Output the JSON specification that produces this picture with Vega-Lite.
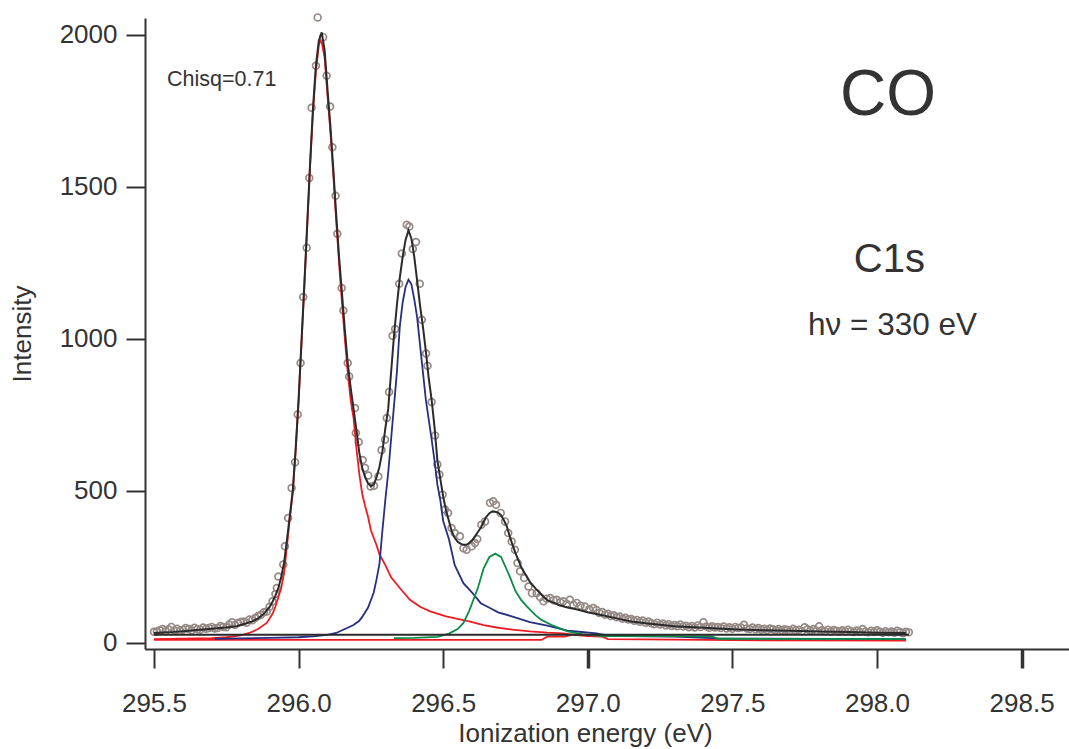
{
"$schema": "https://vega.github.io/schema/vega-lite/v6.json",
"width": 924, "height": 631,
"autosize": {"type": "none"},
"padding": {"left": 145, "top": 18, "right": 0, "bottom": 100},
"background": "white",
"config": {"view": {"stroke": null}, "font": "Liberation Sans"},
"datasets": {
"pts": [
{"x":295.50,"y":36},{"x":295.51,"y":37},{"x":295.52,"y":41},{"x":295.53,"y":45},{"x":295.54,"y":38},{"x":295.55,"y":44},{"x":295.56,"y":52},{"x":295.57,"y":40},{"x":295.58,"y":46},{"x":295.59,"y":39},{"x":295.60,"y":43},{"x":295.61,"y":48},{"x":295.62,"y":45},{"x":295.63,"y":41},{"x":295.64,"y":49},{"x":295.65,"y":44},{"x":295.66,"y":43},{"x":295.67,"y":50},{"x":295.68,"y":46},{"x":295.69,"y":48},{"x":295.70,"y":52},{"x":295.71,"y":47},{"x":295.72,"y":48},{"x":295.73,"y":55},{"x":295.74,"y":52},{"x":295.75,"y":51},{"x":295.76,"y":60},{"x":295.77,"y":67},{"x":295.78,"y":58},{"x":295.79,"y":65},{"x":295.80,"y":68},{"x":295.81,"y":70},{"x":295.82,"y":66},{"x":295.83,"y":76},{"x":295.84,"y":74},{"x":295.85,"y":81},{"x":295.86,"y":88},{"x":295.87,"y":92},{"x":295.88,"y":100},{"x":295.89,"y":103},{"x":295.90,"y":118},{"x":295.91,"y":136},{"x":295.92,"y":160},{"x":295.925,"y":180},{"x":295.93,"y":218},{"x":295.947,"y":257},{"x":295.953,"y":317},{"x":295.964,"y":410},{"x":295.976,"y":509},{"x":295.988,"y":594},{"x":295.997,"y":751},{"x":296.007,"y":920},{"x":296.016,"y":1137},{"x":296.028,"y":1299},{"x":296.037,"y":1529},{"x":296.045,"y":1760},{"x":296.060,"y":1898},{"x":296.066,"y":2057},{"x":296.085,"y":1992},{"x":296.097,"y":1865},{"x":296.109,"y":1764},{"x":296.117,"y":1630},{"x":296.128,"y":1470},{"x":296.134,"y":1345},{"x":296.149,"y":1167},{"x":296.155,"y":1093},{"x":296.170,"y":920},{"x":296.175,"y":876},{"x":296.195,"y":772},{"x":296.198,"y":690},{"x":296.208,"y":660},{"x":296.222,"y":601},{"x":296.230,"y":575},{"x":296.241,"y":550},{"x":296.249,"y":514},{"x":296.261,"y":516},{"x":296.276,"y":547},{"x":296.287,"y":634},{"x":296.299,"y":668},{"x":296.305,"y":739},{"x":296.313,"y":825},{"x":296.325,"y":1010},{"x":296.334,"y":1032},{"x":296.348,"y":1181},{"x":296.357,"y":1280},{"x":296.374,"y":1375},{"x":296.383,"y":1369},{"x":296.395,"y":1295},{"x":296.406,"y":1318},{"x":296.419,"y":1181},{"x":296.426,"y":1062},{"x":296.441,"y":951},{"x":296.446,"y":911},{"x":296.460,"y":792},{"x":296.472,"y":682},{"x":296.480,"y":586},{"x":296.487,"y":553},{"x":296.498,"y":487},{"x":296.506,"y":438},{"x":296.517,"y":427},{"x":296.529,"y":377},{"x":296.540,"y":361},{"x":296.558,"y":350},{"x":296.570,"y":311},{"x":296.581,"y":306},{"x":296.599,"y":317},{"x":296.610,"y":328},{"x":296.618,"y":341},{"x":296.632,"y":388},{"x":296.645,"y":399},{"x":296.662,"y":460},{"x":296.673,"y":465},{"x":296.683,"y":454},{"x":296.699,"y":427},{"x":296.714,"y":399},{"x":296.725,"y":361},{"x":296.737,"y":333},{"x":296.748,"y":306},{"x":296.757,"y":262},{"x":296.766,"y":235},{"x":296.780,"y":213},{"x":296.795,"y":185},{"x":296.807,"y":163},{"x":296.823,"y":163},{"x":296.835,"y":150},{"x":296.847,"y":136},{"x":296.858,"y":145},{"x":296.870,"y":147},{"x":296.882,"y":140},{"x":296.893,"y":141},{"x":296.905,"y":133},{"x":296.915,"y":136},{"x":296.927,"y":128},{"x":296.938,"y":141},{"x":296.950,"y":125},{"x":296.962,"y":131},{"x":296.975,"y":122},{"x":296.990,"y":119},{"x":297.005,"y":110},{"x":297.019,"y":114},
{"x":297.03,"y":108},{"x":297.04,"y":98},{"x":297.05,"y":101},{"x":297.06,"y":92},{"x":297.07,"y":95},{"x":297.08,"y":88},{"x":297.09,"y":90},{"x":297.10,"y":84},{"x":297.11,"y":86},{"x":297.12,"y":79},{"x":297.13,"y":82},{"x":297.14,"y":76},{"x":297.15,"y":78},{"x":297.16,"y":72},{"x":297.17,"y":75},{"x":297.18,"y":69},{"x":297.19,"y":73},{"x":297.20,"y":66},{"x":297.21,"y":70},{"x":297.22,"y":64},{"x":297.23,"y":61},{"x":297.24,"y":66},{"x":297.25,"y":60},{"x":297.26,"y":63},{"x":297.27,"y":57},{"x":297.28,"y":61},{"x":297.29,"y":55},{"x":297.30,"y":58},{"x":297.31,"y":54},{"x":297.32,"y":60},{"x":297.33,"y":53},{"x":297.34,"y":56},{"x":297.35,"y":51},{"x":297.36,"y":55},{"x":297.37,"y":50},{"x":297.38,"y":57},{"x":297.39,"y":52},{"x":297.40,"y":67},{"x":297.41,"y":53},{"x":297.42,"y":49},{"x":297.43,"y":54},{"x":297.44,"y":50},{"x":297.45,"y":52},{"x":297.46,"y":48},{"x":297.47,"y":53},{"x":297.48,"y":47},{"x":297.49,"y":51},{"x":297.50,"y":46},{"x":297.51,"y":52},{"x":297.52,"y":48},{"x":297.53,"y":50},{"x":297.54,"y":59},{"x":297.55,"y":47},{"x":297.56,"y":45},{"x":297.57,"y":50},{"x":297.58,"y":44},{"x":297.59,"y":48},{"x":297.60,"y":43},{"x":297.61,"y":46},{"x":297.62,"y":42},{"x":297.63,"y":47},{"x":297.64,"y":44},{"x":297.65,"y":41},{"x":297.66,"y":45},{"x":297.67,"y":40},{"x":297.68,"y":44},{"x":297.69,"y":42},{"x":297.70,"y":39},{"x":297.71,"y":46},{"x":297.72,"y":41},{"x":297.73,"y":43},{"x":297.74,"y":38},{"x":297.75,"y":51},{"x":297.76,"y":44},{"x":297.77,"y":40},{"x":297.78,"y":45},{"x":297.79,"y":39},{"x":297.80,"y":54},{"x":297.81,"y":41},{"x":297.82,"y":38},{"x":297.83,"y":43},{"x":297.84,"y":37},{"x":297.85,"y":42},{"x":297.86,"y":39},{"x":297.87,"y":36},{"x":297.88,"y":41},{"x":297.89,"y":37},{"x":297.90,"y":43},{"x":297.91,"y":38},{"x":297.92,"y":35},{"x":297.93,"y":40},{"x":297.94,"y":36},{"x":297.95,"y":45},{"x":297.96,"y":37},{"x":297.97,"y":34},{"x":297.98,"y":39},{"x":297.99,"y":35},{"x":298.00,"y":41},{"x":298.01,"y":36},{"x":298.02,"y":33},{"x":298.03,"y":38},{"x":298.04,"y":34},{"x":298.05,"y":37},{"x":298.06,"y":33},{"x":298.07,"y":39},{"x":298.08,"y":35},{"x":298.09,"y":31},{"x":298.10,"y":36},{"x":298.11,"y":34}
],
"fit": [
{"x":295.50,"y":32},{"x":295.55,"y":34},{"x":295.60,"y":38},{"x":295.65,"y":42},{"x":295.70,"y":46},{"x":295.75,"y":50},{"x":295.78,"y":53},{"x":295.80,"y":58},{"x":295.82,"y":64},{"x":295.84,"y":70},{"x":295.86,"y":80},{"x":295.88,"y":95},{"x":295.90,"y":118},{"x":295.91,"y":135},{"x":295.92,"y":155},{"x":295.93,"y":180},{"x":295.94,"y":215},{"x":295.95,"y":265},{"x":295.96,"y":340},{"x":295.97,"y":420},{"x":295.98,"y":500},{"x":295.99,"y":640},{"x":296.00,"y":800},{"x":296.01,"y":990},{"x":296.02,"y":1180},{"x":296.03,"y":1380},{"x":296.04,"y":1580},{"x":296.05,"y":1760},{"x":296.06,"y":1900},{"x":296.07,"y":1980},{"x":296.08,"y":2008},{"x":296.09,"y":1950},{"x":296.10,"y":1820},{"x":296.11,"y":1700},{"x":296.12,"y":1560},{"x":296.13,"y":1410},{"x":296.14,"y":1270},{"x":296.15,"y":1150},{"x":296.16,"y":1030},{"x":296.17,"y":920},{"x":296.18,"y":840},{"x":296.19,"y":770},{"x":296.20,"y":700},{"x":296.21,"y":625},{"x":296.22,"y":575},{"x":296.23,"y":545},{"x":296.24,"y":525},{"x":296.25,"y":515},{"x":296.26,"y":520},{"x":296.27,"y":545},{"x":296.28,"y":580},{"x":296.29,"y":630},{"x":296.30,"y":705},{"x":296.31,"y":770},{"x":296.32,"y":890},{"x":296.33,"y":1010},{"x":296.34,"y":1110},{"x":296.35,"y":1200},{"x":296.36,"y":1270},{"x":296.37,"y":1325},{"x":296.38,"y":1356},{"x":296.39,"y":1330},{"x":296.40,"y":1270},{"x":296.41,"y":1190},{"x":296.42,"y":1110},{"x":296.43,"y":1040},{"x":296.44,"y":960},{"x":296.45,"y":870},{"x":296.46,"y":800},{"x":296.47,"y":710},{"x":296.48,"y":600},{"x":296.49,"y":540},{"x":296.50,"y":481},{"x":296.51,"y":435},{"x":296.52,"y":400},{"x":296.53,"y":365},{"x":296.54,"y":345},{"x":296.55,"y":332},{"x":296.56,"y":326},{"x":296.57,"y":322},{"x":296.58,"y":322},{"x":296.59,"y":328},{"x":296.60,"y":337},{"x":296.61,"y":350},{"x":296.62,"y":364},{"x":296.63,"y":378},{"x":296.64,"y":398},{"x":296.65,"y":415},{"x":296.66,"y":426},{"x":296.67,"y":432},{"x":296.68,"y":431},{"x":296.69,"y":428},{"x":296.70,"y":420},{"x":296.71,"y":403},{"x":296.72,"y":383},{"x":296.73,"y":350},{"x":296.74,"y":322},{"x":296.75,"y":295},{"x":296.76,"y":272},{"x":296.77,"y":248},{"x":296.78,"y":232},{"x":296.79,"y":216},{"x":296.80,"y":200},{"x":296.82,"y":178},{"x":296.84,"y":158},{"x":296.86,"y":140},{"x":296.88,"y":132},{"x":296.90,"y":124},{"x":296.93,"y":116},{"x":296.96,"y":110},{"x":297.00,"y":100},{"x":297.05,"y":90},{"x":297.10,"y":80},{"x":297.15,"y":70},{"x":297.20,"y":64},{"x":297.30,"y":54},{"x":297.40,"y":49},{"x":297.50,"y":44},{"x":297.60,"y":41},{"x":297.70,"y":39},{"x":297.80,"y":37},{"x":297.90,"y":35},{"x":298.00,"y":33},{"x":298.10,"y":32}
],
"red": [
{"x":295.50,"y":12},{"x":295.60,"y":13},{"x":295.70,"y":15},{"x":295.75,"y":18},{"x":295.80,"y":24},{"x":295.83,"y":32},{"x":295.86,"y":45},{"x":295.89,"y":65},{"x":295.91,"y":95},{"x":295.92,"y":119},{"x":295.94,"y":180},{"x":295.95,"y":230},{"x":295.96,"y":320},{"x":295.97,"y":410},{"x":295.98,"y":495},{"x":295.99,"y":630},{"x":296.00,"y":790},{"x":296.01,"y":980},{"x":296.02,"y":1170},{"x":296.03,"y":1370},{"x":296.04,"y":1570},{"x":296.05,"y":1750},{"x":296.06,"y":1880},{"x":296.07,"y":1965},{"x":296.075,"y":1980},{"x":296.08,"y":1975},{"x":296.09,"y":1925},{"x":296.10,"y":1800},{"x":296.11,"y":1680},{"x":296.12,"y":1540},{"x":296.13,"y":1390},{"x":296.14,"y":1250},{"x":296.15,"y":1120},{"x":296.16,"y":1000},{"x":296.17,"y":890},{"x":296.18,"y":800},{"x":296.19,"y":740},{"x":296.20,"y":640},{"x":296.21,"y":555},{"x":296.22,"y":490},{"x":296.23,"y":450},{"x":296.24,"y":415},{"x":296.25,"y":370},{"x":296.27,"y":320},{"x":296.28,"y":290},{"x":296.30,"y":255},{"x":296.32,"y":215},{"x":296.35,"y":180},{"x":296.385,"y":141},{"x":296.42,"y":118},{"x":296.455,"y":103},{"x":296.51,"y":87},{"x":296.55,"y":78},{"x":296.59,"y":70},{"x":296.64,"y":58},{"x":296.685,"y":50},{"x":296.74,"y":43},{"x":296.80,"y":37},{"x":296.86,"y":33},{"x":296.915,"y":31},{"x":296.96,"y":25},{"x":297.00,"y":22},{"x":297.05,"y":20},{"x":297.07,"y":12},{"x":297.30,"y":10},{"x":297.60,"y":8},{"x":298.10,"y":7}
],
"redbase": [
{"x":295.50,"y":9},{"x":296.84,"y":9},{"x":296.86,"y":20},{"x":296.92,"y":20},{"x":296.95,"y":27}
],
"blue": [
{"x":295.71,"y":13},{"x":295.80,"y":14},{"x":295.90,"y":16},{"x":296.00,"y":18},{"x":296.05,"y":21},{"x":296.10,"y":26},{"x":296.13,"y":32},{"x":296.16,"y":45},{"x":296.19,"y":58},{"x":296.21,"y":72},{"x":296.22,"y":85},{"x":296.24,"y":115},{"x":296.26,"y":165},{"x":296.27,"y":210},{"x":296.28,"y":262},{"x":296.29,"y":370},{"x":296.30,"y":470},{"x":296.31,"y":560},{"x":296.32,"y":670},{"x":296.33,"y":780},{"x":296.34,"y":890},{"x":296.35,"y":1040},{"x":296.36,"y":1120},{"x":296.37,"y":1170},{"x":296.38,"y":1194},{"x":296.39,"y":1180},{"x":296.40,"y":1130},{"x":296.41,"y":1070},{"x":296.42,"y":980},{"x":296.43,"y":890},{"x":296.44,"y":800},{"x":296.45,"y":735},{"x":296.46,"y":670},{"x":296.47,"y":600},{"x":296.48,"y":520},{"x":296.49,"y":470},{"x":296.50,"y":400},{"x":296.52,"y":340},{"x":296.54,"y":255},{"x":296.57,"y":196},{"x":296.60,"y":165},{"x":296.63,"y":130},{"x":296.66,"y":115},{"x":296.69,"y":100},{"x":296.74,"y":86},{"x":296.80,"y":68},{"x":296.86,"y":56},{"x":296.93,"y":40},{"x":296.97,"y":36},{"x":297.03,"y":31},{"x":297.06,"y":25},{"x":297.15,"y":22},{"x":297.30,"y":20},{"x":297.45,"y":14},{"x":298.10,"y":12}
],
"green": [
{"x":296.33,"y":15},{"x":296.40,"y":16},{"x":296.48,"y":19},{"x":296.52,"y":30},{"x":296.55,"y":45},{"x":296.57,"y":65},{"x":296.59,"y":105},{"x":296.62,"y":180},{"x":296.64,"y":245},{"x":296.66,"y":282},{"x":296.68,"y":293},{"x":296.70,"y":282},{"x":296.72,"y":240},{"x":296.73,"y":218},{"x":296.75,"y":170},{"x":296.77,"y":140},{"x":296.79,"y":119},{"x":296.82,"y":90},{"x":296.84,"y":75},{"x":296.88,"y":56},{"x":296.93,"y":37},{"x":296.98,"y":28},{"x":297.05,"y":22},{"x":297.43,"y":21},{"x":297.45,"y":13},{"x":298.10,"y":12}
],
"bg": [
{"x":295.50,"y":26},{"x":298.11,"y":26}
]
},
"encoding": {
"x": {"field": "x", "type": "quantitative",
  "scale": {"domain": [295.469, 298.664], "nice": false, "zero": false},
  "axis": {"values": [295.5, 296, 296.5, 297, 297.5, 298, 298.5], "format": ".1f",
    "title": "Ionization energy (eV)", "grid": false,
    "tickSize": 19, "tickWidth": {"condition": {"test": "datum.value == 297 || datum.value == 298.5", "value": 3.5}, "value": 2},
    "tickColor": "#333333", "domainColor": "#333333", "domainWidth": 2,
    "labelFontSize": 26, "labelColor": "#333333", "labelPadding": 22, "labelFlush": false, "labelOverlap": false,
    "titleFontSize": 26, "titleFontWeight": "normal", "titleColor": "#333333", "titlePadding": 4, "titleX": 440}},
"y": {"field": "y", "type": "quantitative",
  "scale": {"domain": [-20.7, 2055], "nice": false, "zero": false},
  "axis": {"values": [0, 500, 1000, 1500, 2000], "format": "d", "title": "Intensity", "grid": false,
    "tickSize": 19, "tickWidth": 2, "tickColor": "#333333", "domainColor": "#333333", "domainWidth": 2,
    "labelFontSize": 26, "labelColor": "#333333", "labelPadding": 9, "labelFlush": false, "labelOverlap": false,
    "titleFontSize": 26, "titleFontWeight": "normal", "titleColor": "#333333", "titlePadding": 24}}
},
"layer": [
{"data": {"name": "pts"}, "mark": {"type": "point", "shape": "circle", "filled": false, "size": 46, "strokeWidth": 1.7, "color": "#968a86", "opacity": 1}},
{"data": {"name": "redbase"}, "mark": {"type": "line", "color": "#ed1c24", "strokeWidth": 1.8}},
{"data": {"name": "red"}, "mark": {"type": "line", "color": "#ed1c24", "strokeWidth": 1.8}},
{"data": {"name": "blue"}, "mark": {"type": "line", "color": "#262f80", "strokeWidth": 1.8}},
{"data": {"name": "green"}, "mark": {"type": "line", "color": "#0b8c48", "strokeWidth": 1.8}},
{"data": {"name": "bg"}, "mark": {"type": "line", "color": "#2b2b2b", "strokeWidth": 2}},
{"data": {"name": "fit"}, "mark": {"type": "line", "color": "#2b2b2b", "strokeWidth": 2}},
{"data": {"values": [{"x": 295.545, "y": 1831, "label": "Chisq=0.71"}]}, "mark": {"type": "text", "align": "left", "baseline": "alphabetic", "fontSize": 21.5, "color": "#333333"}, "encoding": {"text": {"field": "label"}}},
{"data": {"values": [{"x": 298.038, "y": 1736, "label": "CO"}]}, "mark": {"type": "text", "align": "center", "baseline": "alphabetic", "fontSize": 64, "color": "#333333"}, "encoding": {"text": {"field": "label"}}},
{"data": {"values": [{"x": 298.043, "y": 1219, "label": "C1s"}]}, "mark": {"type": "text", "align": "center", "baseline": "alphabetic", "fontSize": 40, "color": "#333333"}, "encoding": {"text": {"field": "label"}}},
{"data": {"values": [{"x": 298.054, "y": 1012, "label": "hν = 330 eV"}]}, "mark": {"type": "text", "align": "center", "baseline": "alphabetic", "fontSize": 31.5, "color": "#333333"}, "encoding": {"text": {"field": "label"}}}
]
}
